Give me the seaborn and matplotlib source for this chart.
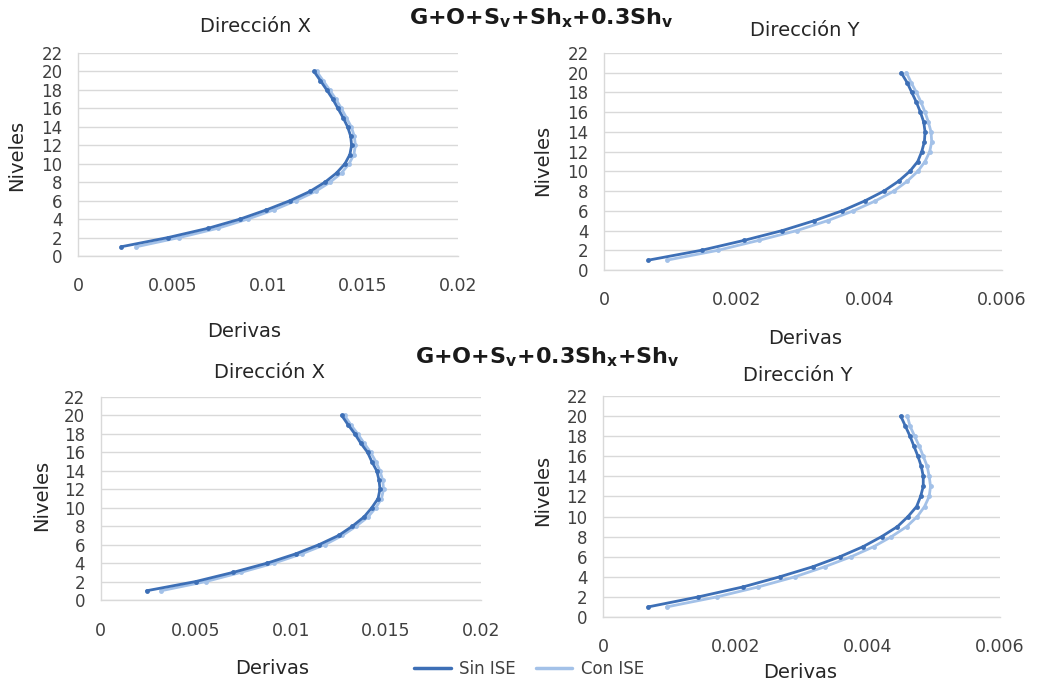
import numpy as np
import pandas as pd
import matplotlib
matplotlib.use("Agg")
import matplotlib.pyplot as plt
from matplotlib.lines import Line2D
import seaborn as sns

niveles = list(range(1, 21))

# Panel 1: G+O+Sv+Shx+0.3Shy - Direccion X
x1_sin = [0.00227, 0.00474, 0.00684, 0.00853, 0.00992, 0.01116, 0.01221, 0.01300, 0.01361, 0.01405,
          0.01431, 0.01440, 0.01435, 0.01419, 0.01395, 0.01368, 0.01341, 0.01309, 0.01276, 0.01242]
x1_con = [0.00306, 0.00533, 0.00735, 0.00893, 0.01031, 0.01147, 0.01250, 0.01327, 0.01387, 0.01427,
          0.01452, 0.01460, 0.01454, 0.01438, 0.01412, 0.01386, 0.01357, 0.01324, 0.01290, 0.01256]
# Panel 2: Direccion Y
y1_sin = [0.00067, 0.00147, 0.00211, 0.00269, 0.00317, 0.00359, 0.00393, 0.00422, 0.00444, 0.00461,
          0.00473, 0.00479, 0.00483, 0.00484, 0.00482, 0.00477, 0.00471, 0.00464, 0.00457, 0.00448]
y1_con = [0.00095, 0.00172, 0.00233, 0.00291, 0.00337, 0.00376, 0.00409, 0.00437, 0.00457, 0.00473,
          0.00484, 0.00491, 0.00494, 0.00493, 0.00489, 0.00484, 0.00478, 0.00471, 0.00463, 0.00456]
# Panel 3: G+O+Sv+0.3Shx+Shy - Direccion X
x2_sin = [0.00242, 0.00500, 0.00698, 0.00877, 0.01026, 0.01149, 0.01252, 0.01324, 0.01385, 0.01426,
          0.01459, 0.01469, 0.01464, 0.01452, 0.01426, 0.01404, 0.01368, 0.01337, 0.01301, 0.01268]
x2_con = [0.00318, 0.00554, 0.00739, 0.00913, 0.01057, 0.01180, 0.01272, 0.01344, 0.01406, 0.01447,
          0.01477, 0.01488, 0.01483, 0.01469, 0.01447, 0.01420, 0.01385, 0.01352, 0.01315, 0.01283]
# Panel 4: Direccion Y
y2_sin = [0.00068, 0.00144, 0.00212, 0.00267, 0.00317, 0.00358, 0.00393, 0.00421, 0.00445, 0.00461,
          0.00474, 0.00480, 0.00484, 0.00484, 0.00481, 0.00476, 0.00470, 0.00464, 0.00457, 0.00450]
y2_con = [0.00096, 0.00172, 0.00235, 0.00290, 0.00335, 0.00375, 0.00409, 0.00436, 0.00459, 0.00475,
          0.00486, 0.00493, 0.00495, 0.00493, 0.00490, 0.00484, 0.00478, 0.00471, 0.00464, 0.00460]

series_names = ["Sin ISE", "Con ISE"]
titulo1 = r"G+O+S$_{\mathbf{v}}$+Sh$_{\mathbf{x}}$+0.3Sh$_{\mathbf{v}}$"
titulo2 = r"G+O+S$_{\mathbf{v}}$+0.3Sh$_{\mathbf{x}}$+Sh$_{\mathbf{v}}$"

sns.set_theme(style="white")
plt.rcParams['font.family'] = ['DejaVu Sans']
plt.rcParams['mathtext.fontset'] = 'dejavusans'

W, H = 1037, 687
fig = plt.figure(figsize=(W / 100, H / 100), dpi=100)
fig.patch.set_facecolor("white")

palette = {"Sin ISE": "#3d6fb6", "Con ISE": "#a3c1e8"}
TXT = "#262626"


def rect(x0, x1, ytop, ybot):
    return [x0 / W, 1 - ybot / H, (x1 - x0) / W, (ybot - ytop) / H]


def ftext(x, y, s, **kw):
    fig.text(x / W, 1 - y / H, s, ha="center", va="center", **kw)


def panel(r, sin, con, xmax, xticks, xticklabels, xpad):
    ax = fig.add_axes(r)
    df = pd.DataFrame({
        "Derivas": sin + con,
        "Niveles": niveles + niveles,
        "Serie": [series_names[0]] * len(sin) + [series_names[1]] * len(con),
    })
    sns.lineplot(data=df, x="Derivas", y="Niveles", hue="Serie", sort=False,
                 estimator=None, palette=palette, hue_order=["Con ISE", "Sin ISE"],
                 marker="o", markersize=3.5, markeredgewidth=0, linewidth=2.0,
                 ax=ax, legend=False)
    ax.set_xlim(0, xmax)
    ax.set_ylim(0, 22)
    ax.set_yticks(range(0, 23, 2))
    ax.set_xticks(xticks)
    ax.set_xticklabels(xticklabels)
    ax.yaxis.grid(True, color="#d9d9d9", linewidth=1.0)
    ax.xaxis.grid(False)
    for s in ["top", "right"]:
        ax.spines[s].set_visible(False)
    for s in ["left", "bottom"]:
        ax.spines[s].set_color("#d9d9d9")
        ax.spines[s].set_linewidth(1.0)
    ax.tick_params(axis="x", length=0, labelsize=12.5, colors="#404040", pad=xpad)
    ax.tick_params(axis="y", length=0, labelsize=12, colors="#404040", pad=11)
    ax.set_xlabel("")
    ax.set_ylabel("")
    return ax


xt = [0, 0.005, 0.01, 0.015, 0.02]
xtl = ["0", "0.005", "0.01", "0.015", "0.02"]
yt = [0, 0.002, 0.004, 0.006]
ytl = ["0", "0.002", "0.004", "0.006"]

panel(rect(78, 458, 53, 256), x1_sin, x1_con, 0.02, xt, xtl, 15)
panel(rect(604, 1002, 53, 270), y1_sin, y1_con, 0.006, yt, ytl, 15)
panel(rect(100.5, 481, 397, 600), x2_sin, x2_con, 0.02, xt, xtl, 15.5)
panel(rect(603, 1000, 396, 617), y2_sin, y2_con, 0.006, yt, ytl, 15)

# panel titles
ftext(255, 27, "Dirección X", fontsize=14, color=TXT)
ftext(805, 30, "Dirección Y", fontsize=14, color=TXT)
ftext(270, 373, "Dirección X", fontsize=14, color=TXT)
ftext(798, 375, "Dirección Y", fontsize=14, color=TXT)
# axis labels
ftext(244, 331, "Derivas", fontsize=14, color=TXT)
ftext(805, 339, "Derivas", fontsize=14, color=TXT)
ftext(272, 668, "Derivas", fontsize=14, color=TXT)
ftext(800, 673, "Derivas", fontsize=14, color=TXT)
ftext(17, 155, "Niveles", fontsize=14, color=TXT, rotation=90)
ftext(543, 160, "Niveles", fontsize=14, color=TXT, rotation=90)
ftext(42, 495, "Niveles", fontsize=14, color=TXT, rotation=90)
ftext(543, 490, "Niveles", fontsize=14, color=TXT, rotation=90)

# combination titles
ftext(541, 18, titulo1, fontsize=16, fontweight="bold", color="#1a1a1a")
ftext(547, 357, titulo2, fontsize=16, fontweight="bold", color="#1a1a1a")

handles = [Line2D([0], [0], color=palette["Sin ISE"], lw=2.5),
           Line2D([0], [0], color=palette["Con ISE"], lw=2.5)]
fig.legend(handles, series_names, loc="center", bbox_to_anchor=(529 / W, 1 - 669 / H),
           ncol=2, frameon=False, fontsize=12, handlelength=2.2, columnspacing=1.2,
           handletextpad=0.5, labelcolor="#404040")

fig.savefig("out.png", dpi=100, facecolor="white")
